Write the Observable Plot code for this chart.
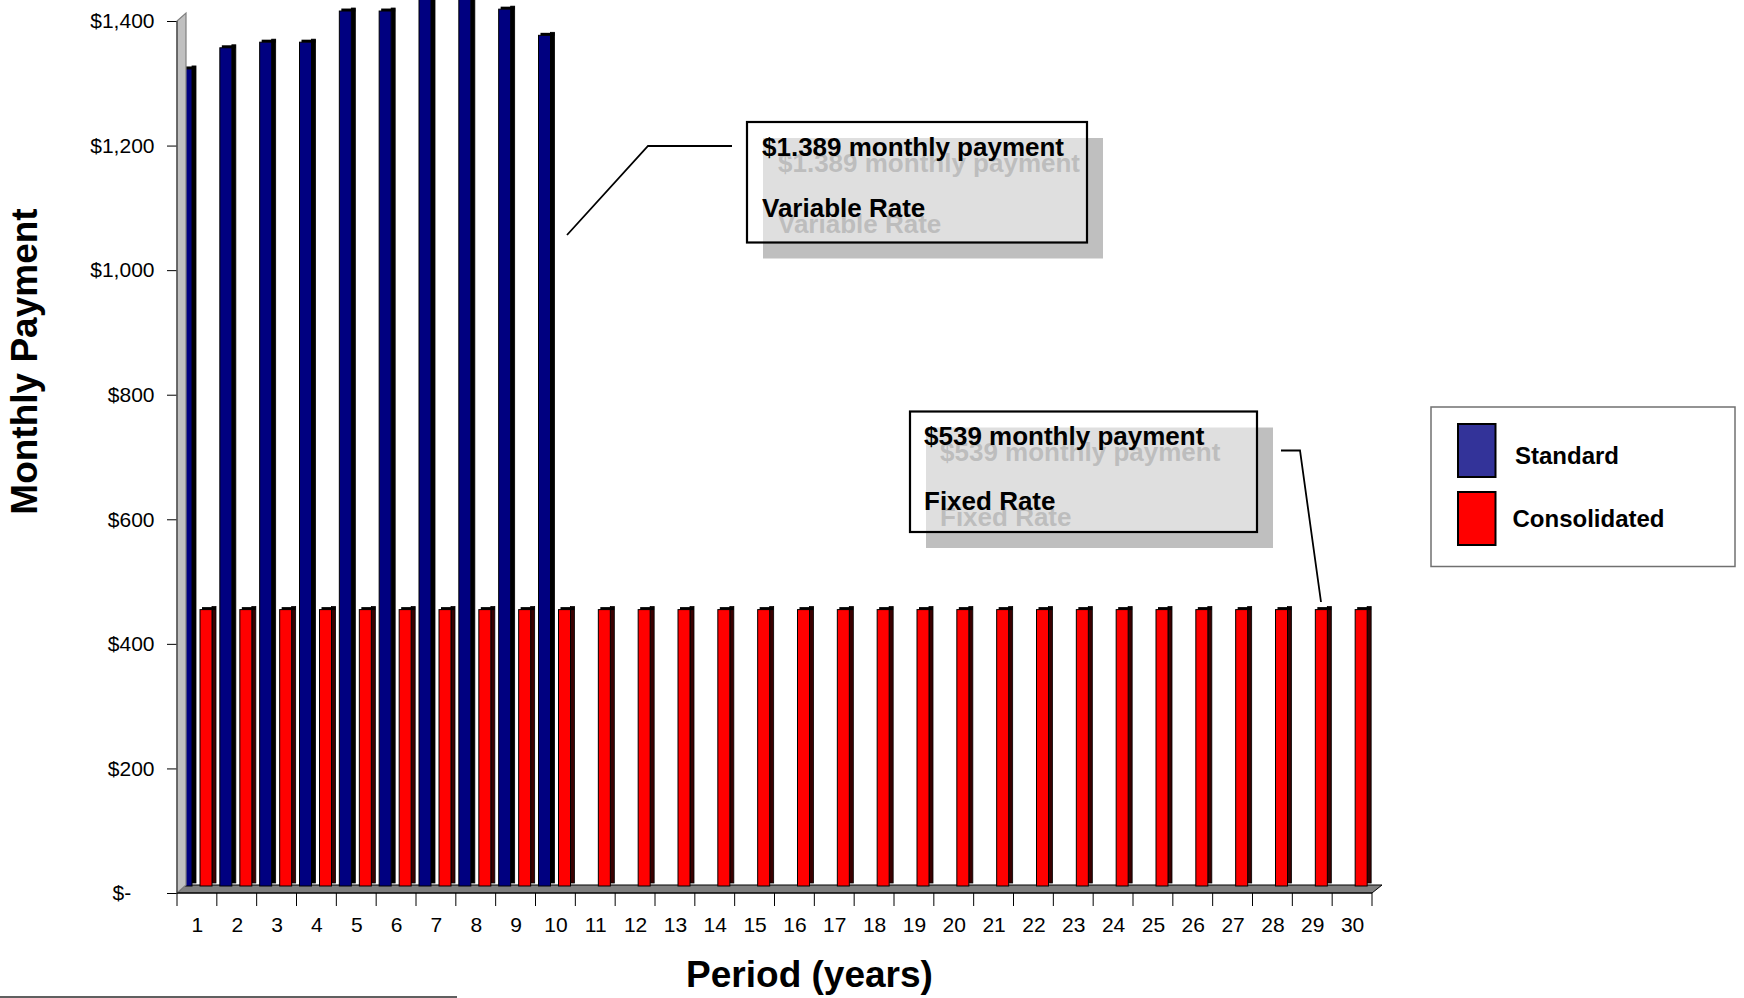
<!DOCTYPE html>
<html>
<head>
<meta charset="utf-8">
<script src="https://cdn.jsdelivr.net/npm/d3@7"></script>
<script src="https://cdn.jsdelivr.net/npm/@observablehq/plot@0.6"></script>
<style>
  html, body { margin: 0; padding: 0; background: #fff; }
  #chart { width: 1744px; height: 998px; overflow: hidden; }
</style>
</head>
<body>
<div id="chart"></div>
<script>
// ---- data ----
const periods = [1,2,3,4,5,6,7,8,9,10,11,12,13,14,15,16,17,18,19,20,21,22,23,24,25,26,27,28,29,30];
const standardPeriods = [1,2,3,4,5,6,7,8,9,10];
const standardPayments = [1323,1357,1366,1366,1416,1416,1450,1460,1419,1377];
const consolidatedPayments = [455,455,455,455,455,455,455,455,455,455,455,455,455,455,455,455,455,455,455,455,455,455,455,455,455,455,455,455,455,455];
const yTicks = [0,200,400,600,800,1000,1200,1400];
const seriesNames = ["Standard","Consolidated"];
const barColors = ["#000080","#ff0000"];
const sideColors = ["#000000","#3a0000"];
const legendColors = ["#333399","#ff0000"];
const annotationVariable = ["$1.389 monthly payment","Variable Rate"];
const annotationFixed = ["$539 monthly payment","Fixed Rate"];
const xTitle = "Period (years)";
const yTitle = "Monthly Payment";

const standard = standardPeriods.map((p,i) => ({period: p, value: standardPayments[i]}));
const consolidated = periods.map((p,i) => ({period: p, value: consolidatedPayments[i]}));

// ---- layout ----
const W = 1744, H = 998, ML = 177, MR = 372, MT = 21, MB = 105;
const bw = (W - ML - MR) / periods.length;
const FONT = "'Liberation Sans', Arial, Helvetica, sans-serif";

function bars3d(data, front, side, off) {
  const fw = 12, sw = 4;
  return [
    Plot.barY(data, {x: "period", y: "value", fill: side, stroke: "#000", strokeWidth: 0.8,
      insetLeft: off + fw, insetRight: bw - off - fw - sw, insetBottom: 7, dy: -3}),
    Plot.tickY(data, {x: "period", y: "value", stroke: "#000", strokeWidth: 3,
      insetLeft: off + 2, insetRight: bw - off - fw - sw, dy: -1.5}),
    Plot.barY(data, {x: "period", y: "value", fill: front, stroke: "#000", strokeWidth: 1,
      insetLeft: off, insetRight: bw - off - fw, insetBottom: 7})
  ];
}

const floorMark = (index, scales, values, dims) => {
  const g = d3.create("svg:g");
  const x0 = dims.marginLeft, x1 = dims.width - dims.marginRight;
  const yb = dims.height - dims.marginBottom;
  g.append("path")
    .attr("d", `M${x0},${yb}L${x1},${yb}L${x1+10},${yb-8}L${x0+9},${yb-8}Z`)
    .attr("fill", "#808080").attr("stroke", "#000").attr("stroke-width", 1);
  return g.node();
};

const wallMark = (index, scales, values, dims) => {
  const g = d3.create("svg:g");
  const x0 = dims.marginLeft;
  const yb = dims.height - dims.marginBottom, yt = dims.marginTop;
  g.append("path")
    .attr("d", `M${x0},${yb}L${x0},${yt}L${x0+9},${yt-8}L${x0+9},${yb-8}Z`)
    .attr("fill", "#c0c0c0").attr("stroke", "#808080").attr("stroke-width", 1.2);
  g.append("line").attr("x1", x0).attr("x2", x0).attr("y1", yt).attr("y2", yb)
    .attr("stroke", "#404040").attr("stroke-width", 1.2);
  return g.node();
};

const boundaryTicks = (index, scales, values, dims) => {
  const g = d3.create("svg:g");
  const xs = scales && scales.x;
  const bwid = xs && xs.bandwidth ? xs.bandwidth() : bw;
  const yb = dims.height - dims.marginBottom;
  const edges = periods.map((p, i) => (xs ? xs(p) : dims.marginLeft + i * bw));
  edges.push(edges[edges.length - 1] + bwid);
  g.append("line").attr("x1", edges[0]).attr("x2", edges[edges.length-1])
    .attr("y1", yb).attr("y2", yb).attr("stroke", "#000");
  for (const e of edges) {
    g.append("line").attr("x1", e).attr("x2", e).attr("y1", yb).attr("y2", yb + 13)
      .attr("stroke", "#000").attr("stroke-width", 1);
  }
  return g.node();
};

function callout(g, box, lines, textX, baselines, leader) {
  const off = 16;
  g.append("rect").attr("x", box[0] + off).attr("y", box[1] + off)
    .attr("width", box[2] - box[0]).attr("height", box[3] - box[1]).attr("fill", "#bfbfbf");
  lines.forEach((t, i) => g.append("text").attr("x", textX + off).attr("y", baselines[i] + off)
    .attr("fill", "#7a7a7a").attr("font-size", 26).attr("font-weight", "bold")
    .attr("text-anchor", "start").attr("font-family", FONT).text(t));
  g.append("rect").attr("x", box[0]).attr("y", box[1])
    .attr("width", box[2] - box[0]).attr("height", box[3] - box[1])
    .attr("fill", "#fff").attr("fill-opacity", 0.5).attr("stroke", "#000").attr("stroke-width", 2.2);
  lines.forEach((t, i) => g.append("text").attr("x", textX).attr("y", baselines[i])
    .attr("fill", "#000").attr("font-size", 26).attr("font-weight", "bold")
    .attr("text-anchor", "start").attr("font-family", FONT).text(t));
  g.append("polyline").attr("points", leader.map(p => p.join(",")).join(" "))
    .attr("fill", "none").attr("stroke", "#000").attr("stroke-width", 1.8);
}

const decorations = (index, scales, values, dims) => {
  const g = d3.create("svg:g").attr("text-anchor", "start");
  callout(g, [747, 122, 1087, 242.5], annotationVariable, 762, [156, 217],
    [[732, 146], [648, 146], [567, 235]]);
  callout(g, [910, 411.5, 1257, 532], annotationFixed, 924, [445, 509.5],
    [[1281, 450.5], [1300, 450.5], [1321, 602]]);
  // legend
  g.append("rect").attr("x", 1431).attr("y", 407).attr("width", 304).attr("height", 159.5)
    .attr("fill", "#fff").attr("stroke", "#707070").attr("stroke-width", 1.5);
  const sw = [[1458, 424, 477], [1458, 492, 545]];
  const lx = [1515, 1512.5], ly = [464, 527];
  seriesNames.forEach((name, i) => {
    g.append("rect").attr("x", sw[i][0]).attr("y", sw[i][1]).attr("width", 37.5)
      .attr("height", sw[i][2] - sw[i][1]).attr("fill", legendColors[i])
      .attr("stroke", "#000").attr("stroke-width", 2);
    g.append("text").attr("x", lx[i]).attr("y", ly[i]).attr("font-size", 24)
      .attr("text-anchor", "start")
      .attr("font-weight", "bold").attr("font-family", FONT).attr("fill", "#000").text(name);
  });
  g.append("line").attr("x1", 0).attr("x2", 457).attr("y1", 997).attr("y2", 997)
    .attr("stroke", "#606060").attr("stroke-width", 2);
  return g.node();
};

const chart = Plot.plot({
  width: W, height: H,
  marginLeft: ML, marginRight: MR, marginTop: MT, marginBottom: MB,
  style: {fontFamily: FONT, fontSize: "21px", color: "#000", background: "#fff", overflow: "hidden"},
  x: {type: "band", domain: periods, padding: 0, round: false, tickSize: 0, tickPadding: 24, label: null},
  y: {domain: [0, 1400], ticks: yTicks, tickSize: 10, tickPadding: 13, label: null,
      tickFormat: d => d === 0 ? "$-    " : "$" + d3.format(",")(d)},
  marks: [
    floorMark,
    ...bars3d(standard, barColors[0], sideColors[0], 3),
    ...bars3d(consolidated, barColors[1], sideColors[1], 23),
    wallMark,
    boundaryTicks,
    Plot.text([xTitle], {text: d => d, frameAnchor: "bottom", textAnchor: "middle", lineAnchor: "middle",
      dx: 34.5, dy: 82, fontSize: 37, fontWeight: "bold", fill: "#000"}),
    Plot.text([yTitle], {text: d => d, frameAnchor: "left", textAnchor: "middle", lineAnchor: "middle",
      rotate: -90, dx: -152.5, dy: -96, fontSize: 37, fontWeight: "bold", fill: "#000"}),
    decorations
  ]
});
document.getElementById("chart").appendChild(chart);
</script>
</body>
</html>
